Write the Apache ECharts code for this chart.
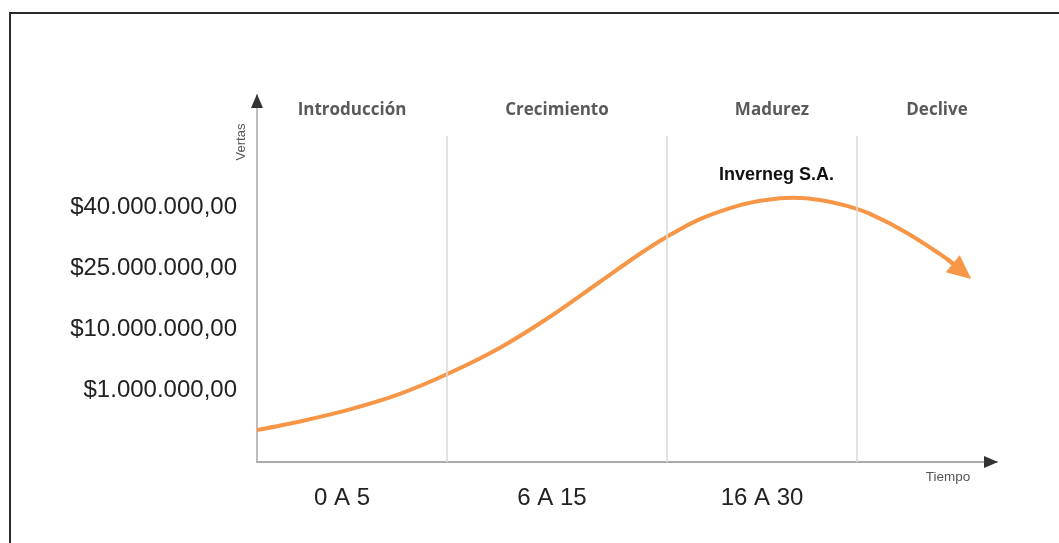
<!DOCTYPE html>
<html>
<head>
<meta charset="utf-8">
<script src="https://cdn.jsdelivr.net/npm/echarts@6/dist/echarts.min.js"></script>
<style>
  html, body { margin: 0; padding: 0; background: #fff; }
  #chart { width: 1059px; height: 543px; }
</style>
</head>
<body>
<div id="chart"></div>
<script>
// Ciclo de vida del producto — curva conceptual de ventas.
// x: tiempo (unidades arbitrarias), y: nivel de ventas (unidades arbitrarias)
const curveX = [0, 4.3, 9.3, 14.3, 19.2, 24.3, 29.3, 34.3, 38.3, 41, 44.3, 48.3, 50.9, 53.6, 56.3, 58.8, 61.3, 65, 69, 70.5];
const curveY = [3.14, 3.98, 5.16, 6.68, 8.7, 11.21, 14.25, 17.68, 20.43, 22.1, 23.82, 25.19, 25.71, 25.91, 25.71, 25.17, 24.34, 22.47, 19.92, 18.7];

// etiquetas del eje de ventas (nivel -> texto)
const salesLevels = [7, 13, 19, 25];
const salesLabels = ['$1.000.000,00', '$10.000.000,00', '$25.000.000,00', '$40.000.000,00'];

// etapas (arriba) y periodos (abajo)
const stageAt = [9.5, 30, 51.5, 68];
const stageNames = ['Introducción', 'Crecimiento', 'Madurez', 'Declive'];
const periodAt = [8.5, 29.5, 50.5];
const periodNames = ['0 A 5', '6 A 15', '16 A 30'];
const dividerAt = [19, 41, 60];
const dividerTop = 32;

const X_MAX = 74, Y_MAX = 36;
const ORANGE = '#f79646';

function lookup(keys, names) {
  const m = {};
  keys.forEach((k, i) => { m[String(k)] = names[i]; });
  return v => m[String(+v.toFixed(2))] || '';
}

const chart = echarts.init(document.getElementById('chart'), null, { renderer: 'canvas' });
const gridRect = { left: 257, right: 62, top: 95, bottom: 81, outerBoundsMode: 'none' };
const n = curveX.length;

chart.setOption({
  animation: false,
  backgroundColor: '#fff',
  title: {
    text: 'Inverneg S.A.', left: 714, top: 161,
    textStyle: { fontFamily: 'Liberation Sans', fontWeight: 'bold', fontSize: 18, color: '#111' }
  },
  graphic: [
    { type: 'polyline', shape: { points: [[10, 560], [10, 13], [1070, 13]] }, style: { stroke: '#2b2b2b', lineWidth: 2, fill: null } },
    { type: 'text', x: 241, y: 142, rotation: Math.PI / 2, style: { text: 'Vertas', fontFamily: 'Liberation Sans', fontSize: 13, fill: '#555', align: 'center', verticalAlign: 'middle' } },
    { type: 'text', x: 948, y: 477, style: { text: 'Tiempo', fontFamily: 'Liberation Sans', fontSize: 13.5, fill: '#555', align: 'center', verticalAlign: 'middle' } }
  ],
  grid: [gridRect, gridRect],
  xAxis: [
    {
      type: 'value', gridIndex: 0, min: 0, max: X_MAX, interval: 0.5,
      axisLine: { show: true, lineStyle: { color: '#ababab', width: 2 } },
      axisTick: { show: false }, splitLine: { show: false },
      axisLabel: { formatter: lookup(periodAt, periodNames), margin: 24, hideOverlap: false,
        fontFamily: 'Liberation Sans', fontSize: 24, color: '#222' }
    },
    {
      type: 'value', gridIndex: 0, position: 'top', min: 0, max: X_MAX, interval: 0.5,
      axisLine: { show: false }, axisTick: { show: false }, splitLine: { show: false },
      axisLabel: { inside: true, margin: 7, formatter: lookup(stageAt, stageNames), hideOverlap: false,
        fontFamily: 'Open Sans', fontWeight: 'bold', fontSize: 17, color: '#5a5a5a' }
    },
    {
      // solo para la punta de flecha oscura del eje
      type: 'value', gridIndex: 1, min: 0, max: X_MAX,
      axisLine: { show: true, symbol: ['none', 'triangle'], symbolSize: [12, 14], symbolOffset: [0, -6],
        lineStyle: { color: '#333', width: 0 } },
      axisTick: { show: false }, splitLine: { show: false }, axisLabel: { show: false }
    }
  ],
  yAxis: [
    {
      type: 'value', gridIndex: 0, min: 0, max: Y_MAX, interval: 1,
      axisLine: { show: true, lineStyle: { color: '#bdbdbd', width: 2 } },
      axisTick: { show: false }, splitLine: { show: false },
      axisLabel: { formatter: lookup(salesLevels, salesLabels), margin: 20, hideOverlap: false,
        fontFamily: 'Liberation Sans', fontSize: 24, color: '#222' }
    },
    {
      type: 'value', gridIndex: 1, min: 0, max: Y_MAX,
      axisLine: { show: true, symbol: ['none', 'triangle'], symbolSize: [12, 14], symbolOffset: [0, -6],
        lineStyle: { color: '#333', width: 0 } },
      axisTick: { show: false }, splitLine: { show: false }, axisLabel: { show: false }
    }
  ],
  series: [
    {
      // divisiones entre etapas
      type: 'line', xAxisIndex: 0, yAxisIndex: 0, data: [], silent: true,
      markLine: {
        silent: true, symbol: 'none', label: { show: false },
        lineStyle: { color: '#d9d9d9', width: 1.5, type: 'solid' },
        data: dividerAt.map(x => [{ coord: [x, dividerTop] }, { coord: [x, 0] }])
      }
    },
    {
      name: 'Ventas', type: 'line', xAxisIndex: 0, yAxisIndex: 0,
      smooth: 0.3, showSymbol: false, silent: true,
      lineStyle: { color: ORANGE, width: 4 },
      data: curveX.map((x, i) => [x, curveY[i]]),
      markLine: {
        silent: true, symbol: ['none', 'triangle'], symbolSize: [22, 24],
        label: { show: false },
        lineStyle: { color: ORANGE, width: 4, type: 'solid' },
        data: [[{ coord: [curveX[n - 2], curveY[n - 2]] }, { coord: [curveX[n - 1], curveY[n - 1]] }]]
      }
    }
  ]
});
</script>
</body>
</html>
